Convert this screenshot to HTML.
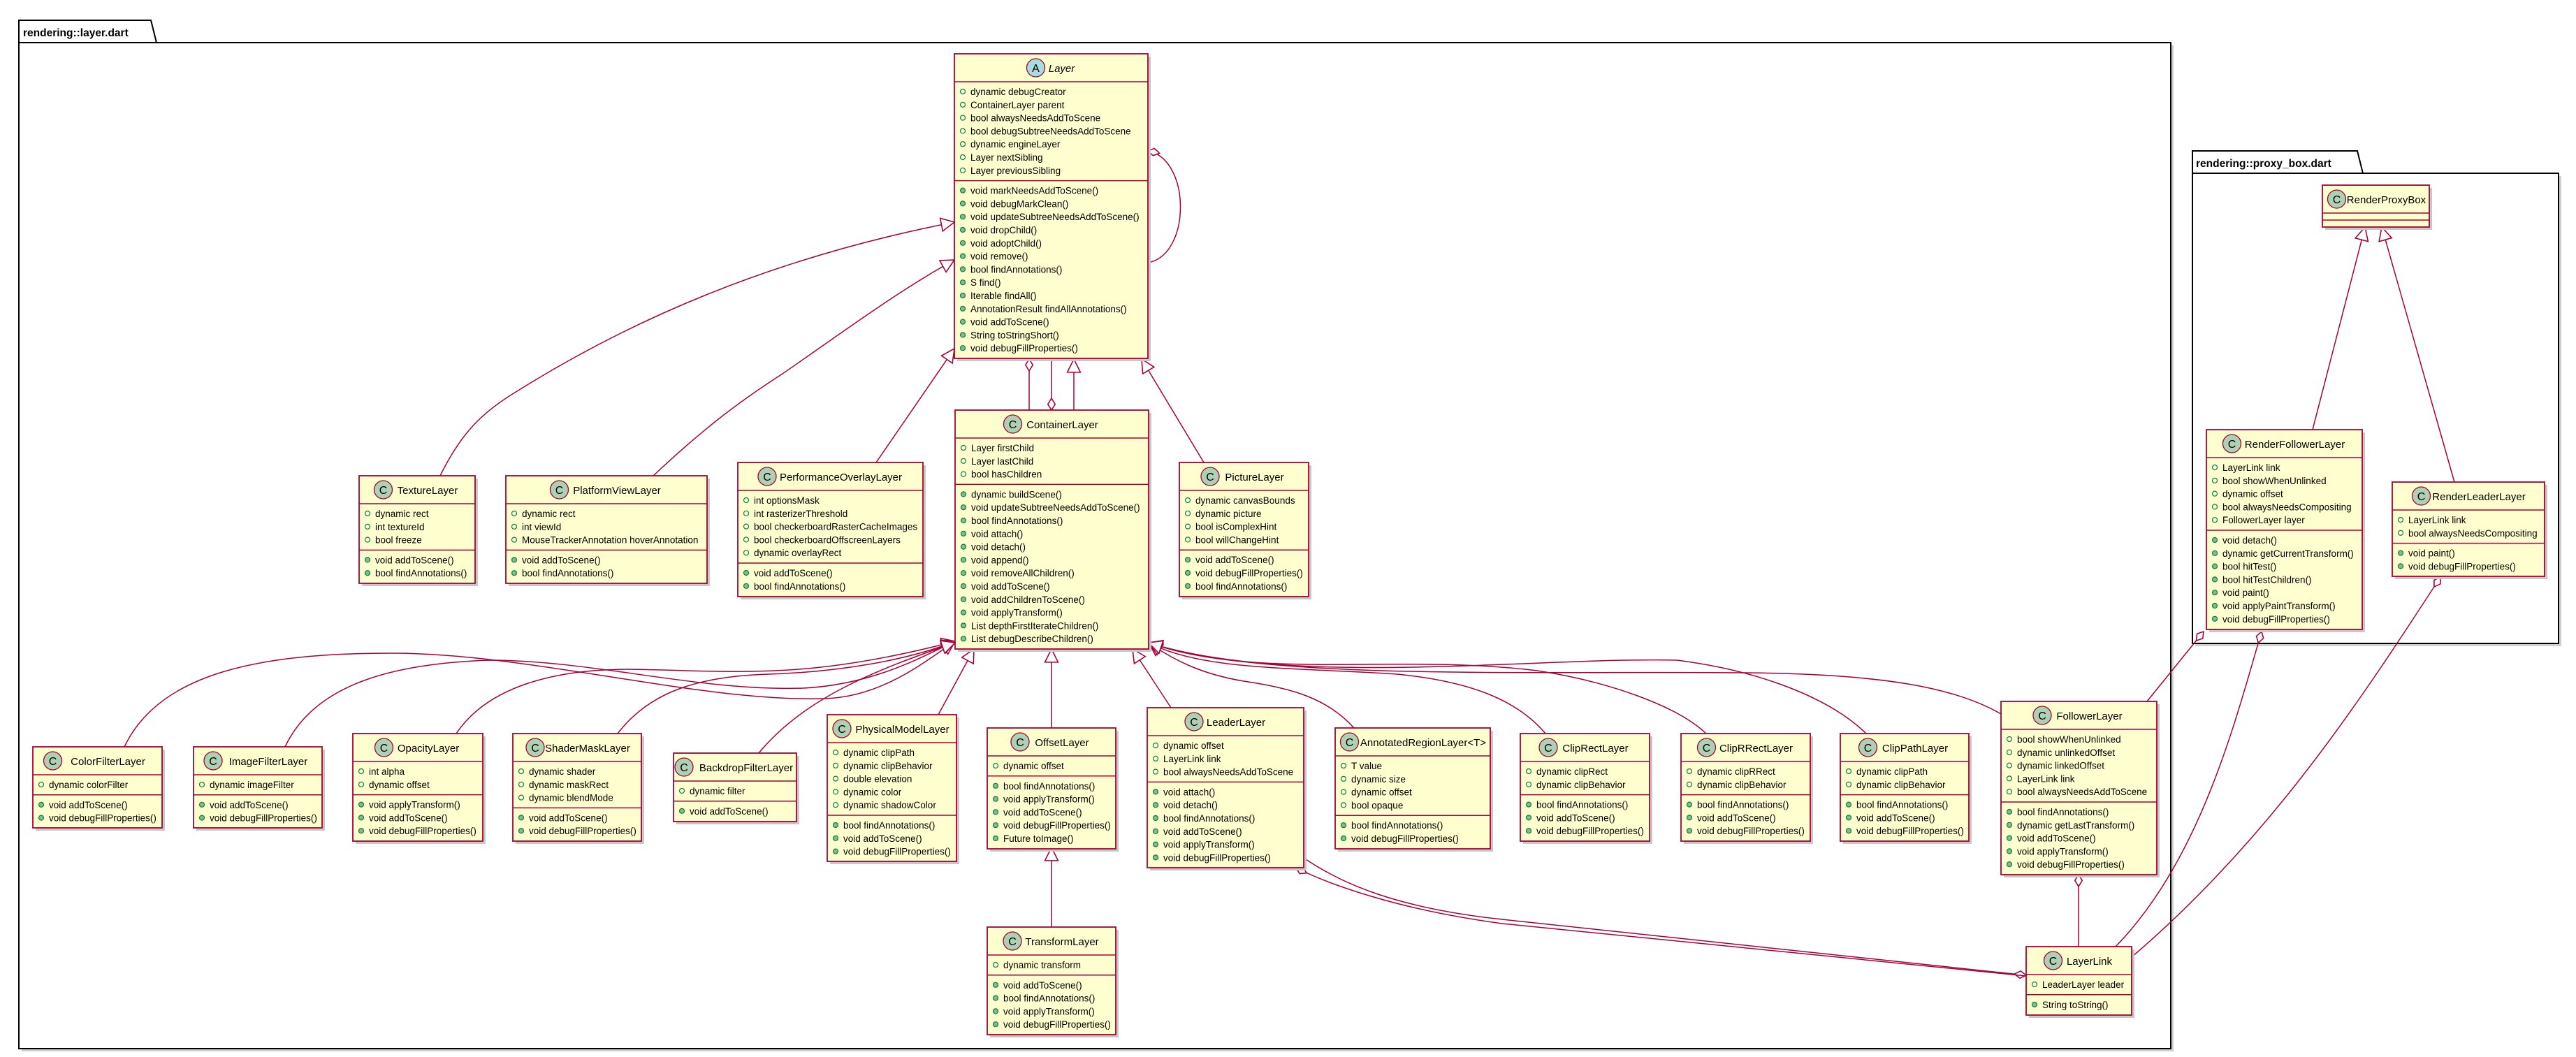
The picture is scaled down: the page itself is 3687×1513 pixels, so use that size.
<!DOCTYPE html>
<html><head><meta charset="utf-8"><style>
html,body{margin:0;padding:0;background:#fff;}
svg{display:block;}
text{font-family:"Liberation Sans",sans-serif;fill:#000;}
.t{font-size:13.5px;}
.n{font-size:15px;text-anchor:middle;}
.b{fill:#FEFECE;stroke:#A80036;stroke-width:1.8;}
.sh{fill:#c8c8c8;}
.sp{stroke:#A80036;stroke-width:1.5;}
.ai{fill:none;stroke:#038048;stroke-width:1.2;}
.mi{fill:#84BE84;stroke:#038048;stroke-width:1.2;}
.ci{fill:#ADD1B2;stroke:#A80036;stroke-width:1.3;}
.ca{fill:#A9DCDF;stroke:#A80036;stroke-width:1.3;}
.cl{font-size:16px;text-anchor:middle;}
.e{fill:none;stroke:#A80036;stroke-width:1.5;}
.inh{marker-end:url(#tri);}
.agg{marker-start:url(#dia);}
.pk{font-size:15.5px;font-weight:bold;}
</style></head><body>
<svg width="3687" height="1513" viewBox="0 0 3687 1513" xmlns="http://www.w3.org/2000/svg">
<defs>
<marker id="tri" markerUnits="userSpaceOnUse" markerWidth="22" markerHeight="22" refX="18" refY="9" orient="auto" viewBox="-1 -1 21 21"><path d="M0,0 L18,9 L0,18 Z" fill="#fff" stroke="#A80036" stroke-width="1.5"/></marker>
<marker id="dia" markerUnits="userSpaceOnUse" markerWidth="20" markerHeight="14" refX="0" refY="5" orient="auto" viewBox="-1 -1 19 12"><path d="M0,5 L8,0 L16,5 L8,10 Z" fill="#fff" stroke="#A80036" stroke-width="1.5"/></marker>
</defs>

<!-- packages -->
<rect x="31" y="65" width="3080" height="1440" fill="#d0d0d0"/>
<rect x="27" y="61" width="3080" height="1440" fill="#fff" stroke="#000" stroke-width="2"/>
<polygon points="27,61 27,29 216,29 224,61" fill="#fff" stroke="#000" stroke-width="2"/>
<text x="33" y="52" class="pk">rendering::layer.dart</text>

<rect x="3142" y="252" width="524" height="673" fill="#d0d0d0"/>
<rect x="3138" y="248" width="524" height="673" fill="#fff" stroke="#000" stroke-width="2"/>
<polygon points="3138,248 3138,216 3374,216 3382,248" fill="#fff" stroke="#000" stroke-width="2"/>
<text x="3143" y="239" class="pk">rendering::proxy_box.dart</text>

<!-- edges -->
<path class="e inh" d="M630,681 C660,620 690,590 740,560 C900,460 1100,370 1366,318"/>
<path class="e inh" d="M935,681 C1000,620 1050,580 1120,535 C1200,480 1280,420 1366,372"/>
<path class="e inh" d="M1254,662 L1366,499"/>
<path class="e inh" d="M1537,587 L1537,514"/>
<path class="e inh" d="M1723,662 L1634,514"/>
<path class="e agg" d="M1473,514 L1473,587"/>
<path class="e agg" d="M1505,587 L1505,514"/>
<path class="e agg" d="M1643,216 C1705,228 1705,365 1643,376"/>

<path class="e inh" d="M178,1069 C230,960 380,935 560,935 C760,935 1000,1005 1180,1000 C1260,998 1320,950 1367,918"/>
<path class="e inh" d="M408,1069 C450,980 560,950 700,945 C850,945 1000,990 1150,985 C1250,980 1320,940 1367,918"/>
<path class="e inh" d="M653,1050 C700,980 800,958 900,958 C1050,960 1150,975 1367,918"/>
<path class="e inh" d="M884,1050 C930,990 1000,968 1100,965 C1200,962 1300,945 1367,918"/>
<path class="e inh" d="M1086,1078 C1150,1000 1250,960 1367,920"/>
<path class="e inh" d="M1343,1023 L1394,929"/>
<path class="e inh" d="M1505,1042 L1505,929"/>
<path class="e inh" d="M1676,1013 L1621,929"/>
<path class="e inh" d="M1938,1042 C1900,1000 1850,985 1780,975 C1720,965 1680,945 1644,920"/>
<path class="e inh" d="M2212,1050 C2170,1000 2100,975 2000,965 C1850,955 1720,960 1644,920"/>
<path class="e inh" d="M2442,1050 C2400,1010 2300,975 2200,960 C2000,935 1800,975 1644,920"/>
<path class="e inh" d="M2671,1050 C2620,1000 2520,960 2400,945 C2200,940 1850,985 1644,920"/>
<path class="e inh" d="M2864,1022 C2800,985 2700,965 2500,963 C2200,960 1800,975 1644,920"/>
<path class="e inh" d="M1505,1327 L1505,1213"/>

<path class="e agg" d="M2900,1396 L2150,1316 C2000,1300 1920,1265 1866,1228"/>
<path class="e agg" d="M1855,1242 C1900,1265 2000,1302 2150,1322 L2900,1397"/>
<path class="e agg" d="M2975,1252 L2975,1355"/>
<path class="e agg" d="M3154,904 L3073,1004"/>
<path class="e agg" d="M3237,904 C3200,1030 3150,1230 3028,1355"/>
<path class="e agg" d="M3493,826 C3380,1000 3250,1200 3051,1370"/>
<path class="e inh" d="M3310,615 L3385,325"/>
<path class="e inh" d="M3513,690 L3409,325"/>

<!-- 1 Layer -->
<g transform="translate(1366,77)">
<rect class="sh" x="4" y="4" width="277" height="436"/><rect class="b" width="277" height="436"/>
<line class="sp" x1="0" y1="40" x2="277" y2="40"/><line class="sp" x1="0" y1="181.6" x2="277" y2="181.6"/>
<circle class="ca" cx="116.5" cy="20" r="13"/><text class="cl" x="116.5" y="26">A</text>
<text class="n" x="153.5" y="26" font-style="italic">Layer</text>
<g class="t">
<circle class="ai" cx="12" cy="54" r="3.5"/><text x="23" y="59">dynamic debugCreator</text>
<circle class="ai" cx="12" cy="72.8" r="3.5"/><text x="23" y="77.8">ContainerLayer parent</text>
<circle class="ai" cx="12" cy="91.6" r="3.5"/><text x="23" y="96.6">bool alwaysNeedsAddToScene</text>
<circle class="ai" cx="12" cy="110.4" r="3.5"/><text x="23" y="115.4">bool debugSubtreeNeedsAddToScene</text>
<circle class="ai" cx="12" cy="129.2" r="3.5"/><text x="23" y="134.2">dynamic engineLayer</text>
<circle class="ai" cx="12" cy="148" r="3.5"/><text x="23" y="153">Layer nextSibling</text>
<circle class="ai" cx="12" cy="166.8" r="3.5"/><text x="23" y="171.8">Layer previousSibling</text>
<circle class="mi" cx="12" cy="195.6" r="3.5"/><text x="23" y="200.6">void markNeedsAddToScene()</text>
<circle class="mi" cx="12" cy="214.4" r="3.5"/><text x="23" y="219.4">void debugMarkClean()</text>
<circle class="mi" cx="12" cy="233.2" r="3.5"/><text x="23" y="238.2">void updateSubtreeNeedsAddToScene()</text>
<circle class="mi" cx="12" cy="252" r="3.5"/><text x="23" y="257">void dropChild()</text>
<circle class="mi" cx="12" cy="270.8" r="3.5"/><text x="23" y="275.8">void adoptChild()</text>
<circle class="mi" cx="12" cy="289.6" r="3.5"/><text x="23" y="294.6">void remove()</text>
<circle class="mi" cx="12" cy="308.4" r="3.5"/><text x="23" y="313.4">bool findAnnotations()</text>
<circle class="mi" cx="12" cy="327.2" r="3.5"/><text x="23" y="332.2">S find()</text>
<circle class="mi" cx="12" cy="346" r="3.5"/><text x="23" y="351">Iterable findAll()</text>
<circle class="mi" cx="12" cy="364.8" r="3.5"/><text x="23" y="369.8">AnnotationResult findAllAnnotations()</text>
<circle class="mi" cx="12" cy="383.6" r="3.5"/><text x="23" y="388.6">void addToScene()</text>
<circle class="mi" cx="12" cy="402.4" r="3.5"/><text x="23" y="407.4">String toStringShort()</text>
<circle class="mi" cx="12" cy="421.2" r="3.5"/><text x="23" y="426.2">void debugFillProperties()</text>
</g></g>

<!-- 2 TextureLayer -->
<g transform="translate(514,681)">
<rect class="sh" x="4" y="4" width="166" height="154"/><rect class="b" width="166" height="154"/>
<line class="sp" x1="0" y1="40" x2="166" y2="40"/><line class="sp" x1="0" y1="106.4" x2="166" y2="106.4"/>
<circle class="ci" cx="34.5" cy="20" r="13"/><text class="cl" x="34.5" y="26">C</text>
<text class="n" x="98" y="26">TextureLayer</text>
<g class="t">
<circle class="ai" cx="12" cy="54" r="3.5"/><text x="23" y="59">dynamic rect</text>
<circle class="ai" cx="12" cy="72.8" r="3.5"/><text x="23" y="77.8">int textureId</text>
<circle class="ai" cx="12" cy="91.6" r="3.5"/><text x="23" y="96.6">bool freeze</text>
<circle class="mi" cx="12" cy="120.4" r="3.5"/><text x="23" y="125.4">void addToScene()</text>
<circle class="mi" cx="12" cy="139.2" r="3.5"/><text x="23" y="144.2">bool findAnnotations()</text>
</g></g>

<!-- 3 PlatformViewLayer -->
<g transform="translate(724,681)">
<rect class="sh" x="4" y="4" width="288" height="154"/><rect class="b" width="288" height="154"/>
<line class="sp" x1="0" y1="40" x2="288" y2="40"/><line class="sp" x1="0" y1="106.4" x2="288" y2="106.4"/>
<circle class="ci" cx="76.5" cy="20" r="13"/><text class="cl" x="76.5" y="26">C</text>
<text class="n" x="159" y="26">PlatformViewLayer</text>
<g class="t">
<circle class="ai" cx="12" cy="54" r="3.5"/><text x="23" y="59">dynamic rect</text>
<circle class="ai" cx="12" cy="72.8" r="3.5"/><text x="23" y="77.8">int viewId</text>
<circle class="ai" cx="12" cy="91.6" r="3.5"/><text x="23" y="96.6">MouseTrackerAnnotation hoverAnnotation</text>
<circle class="mi" cx="12" cy="120.4" r="3.5"/><text x="23" y="125.4">void addToScene()</text>
<circle class="mi" cx="12" cy="139.2" r="3.5"/><text x="23" y="144.2">bool findAnnotations()</text>
</g></g>

<!-- 4 PerformanceOverlayLayer -->
<g transform="translate(1056,662)">
<rect class="sh" x="4" y="4" width="265" height="192"/><rect class="b" width="265" height="192"/>
<line class="sp" x1="0" y1="40" x2="265" y2="40"/><line class="sp" x1="0" y1="144" x2="265" y2="144"/>
<circle class="ci" cx="42" cy="20" r="13"/><text class="cl" x="42" y="26">C</text>
<text class="n" x="147.5" y="26">PerformanceOverlayLayer</text>
<g class="t">
<circle class="ai" cx="12" cy="54" r="3.5"/><text x="23" y="59">int optionsMask</text>
<circle class="ai" cx="12" cy="72.8" r="3.5"/><text x="23" y="77.8">int rasterizerThreshold</text>
<circle class="ai" cx="12" cy="91.6" r="3.5"/><text x="23" y="96.6">bool checkerboardRasterCacheImages</text>
<circle class="ai" cx="12" cy="110.4" r="3.5"/><text x="23" y="115.4">bool checkerboardOffscreenLayers</text>
<circle class="ai" cx="12" cy="129.2" r="3.5"/><text x="23" y="134.2">dynamic overlayRect</text>
<circle class="mi" cx="12" cy="158" r="3.5"/><text x="23" y="163">void addToScene()</text>
<circle class="mi" cx="12" cy="176.8" r="3.5"/><text x="23" y="181.8">bool findAnnotations()</text>
</g></g>

<!-- 5 ContainerLayer -->
<g transform="translate(1367,587)">
<rect class="sh" x="4" y="4" width="277" height="342"/><rect class="b" width="277" height="342"/>
<line class="sp" x1="0" y1="40" x2="277" y2="40"/><line class="sp" x1="0" y1="106.4" x2="277" y2="106.4"/>
<circle class="ci" cx="82.5" cy="20" r="13"/><text class="cl" x="82.5" y="26">C</text>
<text class="n" x="153.5" y="26">ContainerLayer</text>
<g class="t">
<circle class="ai" cx="12" cy="54" r="3.5"/><text x="23" y="59">Layer firstChild</text>
<circle class="ai" cx="12" cy="72.8" r="3.5"/><text x="23" y="77.8">Layer lastChild</text>
<circle class="ai" cx="12" cy="91.6" r="3.5"/><text x="23" y="96.6">bool hasChildren</text>
<circle class="mi" cx="12" cy="120.4" r="3.5"/><text x="23" y="125.4">dynamic buildScene()</text>
<circle class="mi" cx="12" cy="139.2" r="3.5"/><text x="23" y="144.2">void updateSubtreeNeedsAddToScene()</text>
<circle class="mi" cx="12" cy="158" r="3.5"/><text x="23" y="163">bool findAnnotations()</text>
<circle class="mi" cx="12" cy="176.8" r="3.5"/><text x="23" y="181.8">void attach()</text>
<circle class="mi" cx="12" cy="195.6" r="3.5"/><text x="23" y="200.6">void detach()</text>
<circle class="mi" cx="12" cy="214.4" r="3.5"/><text x="23" y="219.4">void append()</text>
<circle class="mi" cx="12" cy="233.2" r="3.5"/><text x="23" y="238.2">void removeAllChildren()</text>
<circle class="mi" cx="12" cy="252" r="3.5"/><text x="23" y="257">void addToScene()</text>
<circle class="mi" cx="12" cy="270.8" r="3.5"/><text x="23" y="275.8">void addChildrenToScene()</text>
<circle class="mi" cx="12" cy="289.6" r="3.5"/><text x="23" y="294.6">void applyTransform()</text>
<circle class="mi" cx="12" cy="308.4" r="3.5"/><text x="23" y="313.4">List depthFirstIterateChildren()</text>
<circle class="mi" cx="12" cy="327.2" r="3.5"/><text x="23" y="332.2">List debugDescribeChildren()</text>
</g></g>

<!-- 6 PictureLayer -->
<g transform="translate(1688,662)">
<rect class="sh" x="4" y="4" width="185" height="192"/><rect class="b" width="185" height="192"/>
<line class="sp" x1="0" y1="40" x2="185" y2="40"/><line class="sp" x1="0" y1="125.2" x2="185" y2="125.2"/>
<circle class="ci" cx="44" cy="20" r="13"/><text class="cl" x="44" y="26">C</text>
<text class="n" x="107.5" y="26">PictureLayer</text>
<g class="t">
<circle class="ai" cx="12" cy="54" r="3.5"/><text x="23" y="59">dynamic canvasBounds</text>
<circle class="ai" cx="12" cy="72.8" r="3.5"/><text x="23" y="77.8">dynamic picture</text>
<circle class="ai" cx="12" cy="91.6" r="3.5"/><text x="23" y="96.6">bool isComplexHint</text>
<circle class="ai" cx="12" cy="110.4" r="3.5"/><text x="23" y="115.4">bool willChangeHint</text>
<circle class="mi" cx="12" cy="139.2" r="3.5"/><text x="23" y="144.2">void addToScene()</text>
<circle class="mi" cx="12" cy="158" r="3.5"/><text x="23" y="163">void debugFillProperties()</text>
<circle class="mi" cx="12" cy="176.8" r="3.5"/><text x="23" y="181.8">bool findAnnotations()</text>
</g></g>

<!-- 7 ColorFilterLayer -->
<g transform="translate(47,1069)">
<rect class="sh" x="4" y="4" width="185" height="116"/><rect class="b" width="185" height="116"/>
<line class="sp" x1="0" y1="40" x2="185" y2="40"/><line class="sp" x1="0" y1="68.8" x2="185" y2="68.8"/>
<circle class="ci" cx="28.5" cy="20" r="13"/><text class="cl" x="28.5" y="26">C</text>
<text class="n" x="107.5" y="26">ColorFilterLayer</text>
<g class="t">
<circle class="ai" cx="12" cy="54" r="3.5"/><text x="23" y="59">dynamic colorFilter</text>
<circle class="mi" cx="12" cy="82.8" r="3.5"/><text x="23" y="87.8">void addToScene()</text>
<circle class="mi" cx="12" cy="101.6" r="3.5"/><text x="23" y="106.6">void debugFillProperties()</text>
</g></g>

<!-- 8 ImageFilterLayer -->
<g transform="translate(277,1069)">
<rect class="sh" x="4" y="4" width="184" height="116"/><rect class="b" width="184" height="116"/>
<line class="sp" x1="0" y1="40" x2="184" y2="40"/><line class="sp" x1="0" y1="68.8" x2="184" y2="68.8"/>
<circle class="ci" cx="28" cy="20" r="13"/><text class="cl" x="28" y="26">C</text>
<text class="n" x="107" y="26">ImageFilterLayer</text>
<g class="t">
<circle class="ai" cx="12" cy="54" r="3.5"/><text x="23" y="59">dynamic imageFilter</text>
<circle class="mi" cx="12" cy="82.8" r="3.5"/><text x="23" y="87.8">void addToScene()</text>
<circle class="mi" cx="12" cy="101.6" r="3.5"/><text x="23" y="106.6">void debugFillProperties()</text>
</g></g>

<!-- 9 OpacityLayer -->
<g transform="translate(505,1050)">
<rect class="sh" x="4" y="4" width="186" height="154"/><rect class="b" width="186" height="154"/>
<line class="sp" x1="0" y1="40" x2="186" y2="40"/><line class="sp" x1="0" y1="87.6" x2="186" y2="87.6"/>
<circle class="ci" cx="44.5" cy="20" r="13"/><text class="cl" x="44.5" y="26">C</text>
<text class="n" x="108" y="26">OpacityLayer</text>
<g class="t">
<circle class="ai" cx="12" cy="54" r="3.5"/><text x="23" y="59">int alpha</text>
<circle class="ai" cx="12" cy="72.8" r="3.5"/><text x="23" y="77.8">dynamic offset</text>
<circle class="mi" cx="12" cy="101.6" r="3.5"/><text x="23" y="106.6">void applyTransform()</text>
<circle class="mi" cx="12" cy="120.4" r="3.5"/><text x="23" y="125.4">void addToScene()</text>
<circle class="mi" cx="12" cy="139.2" r="3.5"/><text x="23" y="144.2">void debugFillProperties()</text>
</g></g>

<!-- 10 ShaderMaskLayer -->
<g transform="translate(734,1050)">
<rect class="sh" x="4" y="4" width="184" height="154"/><rect class="b" width="184" height="154"/>
<line class="sp" x1="0" y1="40" x2="184" y2="40"/><line class="sp" x1="0" y1="106.4" x2="184" y2="106.4"/>
<circle class="ci" cx="32" cy="20" r="13"/><text class="cl" x="32" y="26">C</text>
<text class="n" x="107" y="26">ShaderMaskLayer</text>
<g class="t">
<circle class="ai" cx="12" cy="54" r="3.5"/><text x="23" y="59">dynamic shader</text>
<circle class="ai" cx="12" cy="72.8" r="3.5"/><text x="23" y="77.8">dynamic maskRect</text>
<circle class="ai" cx="12" cy="91.6" r="3.5"/><text x="23" y="96.6">dynamic blendMode</text>
<circle class="mi" cx="12" cy="120.4" r="3.5"/><text x="23" y="125.4">void addToScene()</text>
<circle class="mi" cx="12" cy="139.2" r="3.5"/><text x="23" y="144.2">void debugFillProperties()</text>
</g></g>

<!-- 11 BackdropFilterLayer -->
<g transform="translate(964,1078)">
<rect class="sh" x="4" y="4" width="176" height="98"/><rect class="b" width="176" height="98"/>
<line class="sp" x1="0" y1="40" x2="176" y2="40"/><line class="sp" x1="0" y1="68.8" x2="176" y2="68.8"/>
<circle class="ci" cx="15" cy="20" r="13"/><text class="cl" x="15" y="26">C</text>
<text class="n" x="104" y="26">BackdropFilterLayer</text>
<g class="t">
<circle class="ai" cx="12" cy="54" r="3.5"/><text x="23" y="59">dynamic filter</text>
<circle class="mi" cx="12" cy="82.8" r="3.5"/><text x="23" y="87.8">void addToScene()</text>
</g></g>

<!-- 12 PhysicalModelLayer -->
<g transform="translate(1184,1023)">
<rect class="sh" x="4" y="4" width="185" height="210"/><rect class="b" width="185" height="210"/>
<line class="sp" x1="0" y1="40" x2="185" y2="40"/><line class="sp" x1="0" y1="144" x2="185" y2="144"/>
<circle class="ci" cx="21" cy="20" r="13"/><text class="cl" x="21" y="26">C</text>
<text class="n" x="107.5" y="26">PhysicalModelLayer</text>
<g class="t">
<circle class="ai" cx="12" cy="54" r="3.5"/><text x="23" y="59">dynamic clipPath</text>
<circle class="ai" cx="12" cy="72.8" r="3.5"/><text x="23" y="77.8">dynamic clipBehavior</text>
<circle class="ai" cx="12" cy="91.6" r="3.5"/><text x="23" y="96.6">double elevation</text>
<circle class="ai" cx="12" cy="110.4" r="3.5"/><text x="23" y="115.4">dynamic color</text>
<circle class="ai" cx="12" cy="129.2" r="3.5"/><text x="23" y="134.2">dynamic shadowColor</text>
<circle class="mi" cx="12" cy="158" r="3.5"/><text x="23" y="163">bool findAnnotations()</text>
<circle class="mi" cx="12" cy="176.8" r="3.5"/><text x="23" y="181.8">void addToScene()</text>
<circle class="mi" cx="12" cy="195.6" r="3.5"/><text x="23" y="200.6">void debugFillProperties()</text>
</g></g>

<!-- 13 OffsetLayer -->
<g transform="translate(1413,1042)">
<rect class="sh" x="4" y="4" width="184" height="173"/><rect class="b" width="184" height="173"/>
<line class="sp" x1="0" y1="40" x2="184" y2="40"/><line class="sp" x1="0" y1="68.8" x2="184" y2="68.8"/>
<circle class="ci" cx="47" cy="20" r="13"/><text class="cl" x="47" y="26">C</text>
<text class="n" x="107" y="26">OffsetLayer</text>
<g class="t">
<circle class="ai" cx="12" cy="54" r="3.5"/><text x="23" y="59">dynamic offset</text>
<circle class="mi" cx="12" cy="82.8" r="3.5"/><text x="23" y="87.8">bool findAnnotations()</text>
<circle class="mi" cx="12" cy="101.6" r="3.5"/><text x="23" y="106.6">void applyTransform()</text>
<circle class="mi" cx="12" cy="120.4" r="3.5"/><text x="23" y="125.4">void addToScene()</text>
<circle class="mi" cx="12" cy="139.2" r="3.5"/><text x="23" y="144.2">void debugFillProperties()</text>
<circle class="mi" cx="12" cy="158" r="3.5"/><text x="23" y="163">Future toImage()</text>
</g></g>

<!-- 14 LeaderLayer -->
<g transform="translate(1642,1013)">
<rect class="sh" x="4" y="4" width="224" height="229"/><rect class="b" width="224" height="229"/>
<line class="sp" x1="0" y1="40" x2="224" y2="40"/><line class="sp" x1="0" y1="106.4" x2="224" y2="106.4"/>
<circle class="ci" cx="67" cy="20" r="13"/><text class="cl" x="67" y="26">C</text>
<text class="n" x="127" y="26">LeaderLayer</text>
<g class="t">
<circle class="ai" cx="12" cy="54" r="3.5"/><text x="23" y="59">dynamic offset</text>
<circle class="ai" cx="12" cy="72.8" r="3.5"/><text x="23" y="77.8">LayerLink link</text>
<circle class="ai" cx="12" cy="91.6" r="3.5"/><text x="23" y="96.6">bool alwaysNeedsAddToScene</text>
<circle class="mi" cx="12" cy="120.4" r="3.5"/><text x="23" y="125.4">void attach()</text>
<circle class="mi" cx="12" cy="139.2" r="3.5"/><text x="23" y="144.2">void detach()</text>
<circle class="mi" cx="12" cy="158" r="3.5"/><text x="23" y="163">bool findAnnotations()</text>
<circle class="mi" cx="12" cy="176.8" r="3.5"/><text x="23" y="181.8">void addToScene()</text>
<circle class="mi" cx="12" cy="195.6" r="3.5"/><text x="23" y="200.6">void applyTransform()</text>
<circle class="mi" cx="12" cy="214.4" r="3.5"/><text x="23" y="219.4">void debugFillProperties()</text>
</g></g>

<!-- 15 AnnotatedRegionLayer -->
<g transform="translate(1911,1042)">
<rect class="sh" x="4" y="4" width="222" height="173"/><rect class="b" width="222" height="173"/>
<line class="sp" x1="0" y1="40" x2="222" y2="40"/><line class="sp" x1="0" y1="125.2" x2="222" y2="125.2"/>
<circle class="ci" cx="20.5" cy="20" r="13"/><text class="cl" x="20.5" y="26">C</text>
<text class="n" x="126" y="26">AnnotatedRegionLayer&lt;T&gt;</text>
<g class="t">
<circle class="ai" cx="12" cy="54" r="3.5"/><text x="23" y="59">T value</text>
<circle class="ai" cx="12" cy="72.8" r="3.5"/><text x="23" y="77.8">dynamic size</text>
<circle class="ai" cx="12" cy="91.6" r="3.5"/><text x="23" y="96.6">dynamic offset</text>
<circle class="ai" cx="12" cy="110.4" r="3.5"/><text x="23" y="115.4">bool opaque</text>
<circle class="mi" cx="12" cy="139.2" r="3.5"/><text x="23" y="144.2">bool findAnnotations()</text>
<circle class="mi" cx="12" cy="158" r="3.5"/><text x="23" y="163">void debugFillProperties()</text>
</g></g>

<!-- 16 ClipRectLayer -->
<g transform="translate(2176,1050)">
<rect class="sh" x="4" y="4" width="185" height="154"/><rect class="b" width="185" height="154"/>
<line class="sp" x1="0" y1="40" x2="185" y2="40"/><line class="sp" x1="0" y1="87.6" x2="185" y2="87.6"/>
<circle class="ci" cx="40" cy="20" r="13"/><text class="cl" x="40" y="26">C</text>
<text class="n" x="107.5" y="26">ClipRectLayer</text>
<g class="t">
<circle class="ai" cx="12" cy="54" r="3.5"/><text x="23" y="59">dynamic clipRect</text>
<circle class="ai" cx="12" cy="72.8" r="3.5"/><text x="23" y="77.8">dynamic clipBehavior</text>
<circle class="mi" cx="12" cy="101.6" r="3.5"/><text x="23" y="106.6">bool findAnnotations()</text>
<circle class="mi" cx="12" cy="120.4" r="3.5"/><text x="23" y="125.4">void addToScene()</text>
<circle class="mi" cx="12" cy="139.2" r="3.5"/><text x="23" y="144.2">void debugFillProperties()</text>
</g></g>

<!-- 17 ClipRRectLayer -->
<g transform="translate(2406,1050)">
<rect class="sh" x="4" y="4" width="185" height="154"/><rect class="b" width="185" height="154"/>
<line class="sp" x1="0" y1="40" x2="185" y2="40"/><line class="sp" x1="0" y1="87.6" x2="185" y2="87.6"/>
<circle class="ci" cx="36.5" cy="20" r="13"/><text class="cl" x="36.5" y="26">C</text>
<text class="n" x="107.5" y="26">ClipRRectLayer</text>
<g class="t">
<circle class="ai" cx="12" cy="54" r="3.5"/><text x="23" y="59">dynamic clipRRect</text>
<circle class="ai" cx="12" cy="72.8" r="3.5"/><text x="23" y="77.8">dynamic clipBehavior</text>
<circle class="mi" cx="12" cy="101.6" r="3.5"/><text x="23" y="106.6">bool findAnnotations()</text>
<circle class="mi" cx="12" cy="120.4" r="3.5"/><text x="23" y="125.4">void addToScene()</text>
<circle class="mi" cx="12" cy="139.2" r="3.5"/><text x="23" y="144.2">void debugFillProperties()</text>
</g></g>

<!-- 18 ClipPathLayer -->
<g transform="translate(2634,1050)">
<rect class="sh" x="4" y="4" width="184" height="154"/><rect class="b" width="184" height="154"/>
<line class="sp" x1="0" y1="40" x2="184" y2="40"/><line class="sp" x1="0" y1="87.6" x2="184" y2="87.6"/>
<circle class="ci" cx="39.5" cy="20" r="13"/><text class="cl" x="39.5" y="26">C</text>
<text class="n" x="107" y="26">ClipPathLayer</text>
<g class="t">
<circle class="ai" cx="12" cy="54" r="3.5"/><text x="23" y="59">dynamic clipPath</text>
<circle class="ai" cx="12" cy="72.8" r="3.5"/><text x="23" y="77.8">dynamic clipBehavior</text>
<circle class="mi" cx="12" cy="101.6" r="3.5"/><text x="23" y="106.6">bool findAnnotations()</text>
<circle class="mi" cx="12" cy="120.4" r="3.5"/><text x="23" y="125.4">void addToScene()</text>
<circle class="mi" cx="12" cy="139.2" r="3.5"/><text x="23" y="144.2">void debugFillProperties()</text>
</g></g>

<!-- 19 FollowerLayer -->
<g transform="translate(2864,1004)">
<rect class="sh" x="4" y="4" width="223" height="248"/><rect class="b" width="223" height="248"/>
<line class="sp" x1="0" y1="40" x2="223" y2="40"/><line class="sp" x1="0" y1="144" x2="223" y2="144"/>
<circle class="ci" cx="59" cy="20" r="13"/><text class="cl" x="59" y="26">C</text>
<text class="n" x="126.5" y="26">FollowerLayer</text>
<g class="t">
<circle class="ai" cx="12" cy="54" r="3.5"/><text x="23" y="59">bool showWhenUnlinked</text>
<circle class="ai" cx="12" cy="72.8" r="3.5"/><text x="23" y="77.8">dynamic unlinkedOffset</text>
<circle class="ai" cx="12" cy="91.6" r="3.5"/><text x="23" y="96.6">dynamic linkedOffset</text>
<circle class="ai" cx="12" cy="110.4" r="3.5"/><text x="23" y="115.4">LayerLink link</text>
<circle class="ai" cx="12" cy="129.2" r="3.5"/><text x="23" y="134.2">bool alwaysNeedsAddToScene</text>
<circle class="mi" cx="12" cy="158" r="3.5"/><text x="23" y="163">bool findAnnotations()</text>
<circle class="mi" cx="12" cy="176.8" r="3.5"/><text x="23" y="181.8">dynamic getLastTransform()</text>
<circle class="mi" cx="12" cy="195.6" r="3.5"/><text x="23" y="200.6">void addToScene()</text>
<circle class="mi" cx="12" cy="214.4" r="3.5"/><text x="23" y="219.4">void applyTransform()</text>
<circle class="mi" cx="12" cy="233.2" r="3.5"/><text x="23" y="238.2">void debugFillProperties()</text>
</g></g>

<!-- 20 TransformLayer -->
<g transform="translate(1413,1327)">
<rect class="sh" x="4" y="4" width="184" height="154"/><rect class="b" width="184" height="154"/>
<line class="sp" x1="0" y1="40" x2="184" y2="40"/><line class="sp" x1="0" y1="68.8" x2="184" y2="68.8"/>
<circle class="ci" cx="36" cy="20" r="13"/><text class="cl" x="36" y="26">C</text>
<text class="n" x="107" y="26">TransformLayer</text>
<g class="t">
<circle class="ai" cx="12" cy="54" r="3.5"/><text x="23" y="59">dynamic transform</text>
<circle class="mi" cx="12" cy="82.8" r="3.5"/><text x="23" y="87.8">void addToScene()</text>
<circle class="mi" cx="12" cy="101.6" r="3.5"/><text x="23" y="106.6">bool findAnnotations()</text>
<circle class="mi" cx="12" cy="120.4" r="3.5"/><text x="23" y="125.4">void applyTransform()</text>
<circle class="mi" cx="12" cy="139.2" r="3.5"/><text x="23" y="144.2">void debugFillProperties()</text>
</g></g>

<!-- 21 LayerLink -->
<g transform="translate(2900,1355)">
<rect class="sh" x="4" y="4" width="151" height="98"/><rect class="b" width="151" height="98"/>
<line class="sp" x1="0" y1="40" x2="151" y2="40"/><line class="sp" x1="0" y1="68.8" x2="151" y2="68.8"/>
<circle class="ci" cx="38.5" cy="20" r="13"/><text class="cl" x="38.5" y="26">C</text>
<text class="n" x="90.5" y="26">LayerLink</text>
<g class="t">
<circle class="ai" cx="12" cy="54" r="3.5"/><text x="23" y="59">LeaderLayer leader</text>
<circle class="mi" cx="12" cy="82.8" r="3.5"/><text x="23" y="87.8">String toString()</text>
</g></g>

<!-- 22 RenderProxyBox -->
<g transform="translate(3324,265)">
<rect class="sh" x="4" y="4" width="153" height="60"/><rect class="b" width="153" height="60"/>
<line class="sp" x1="0" y1="40" x2="153" y2="40"/><line class="sp" x1="0" y1="50" x2="153" y2="50"/>
<circle class="ci" cx="20.5" cy="20" r="13"/><text class="cl" x="20.5" y="26">C</text>
<text class="n" x="91.5" y="26">RenderProxyBox</text>
</g>

<!-- 23 RenderFollowerLayer -->
<g transform="translate(3158,615)">
<rect class="sh" x="4" y="4" width="223" height="286"/><rect class="b" width="223" height="286"/>
<line class="sp" x1="0" y1="40" x2="223" y2="40"/><line class="sp" x1="0" y1="144" x2="223" y2="144"/>
<circle class="ci" cx="36.5" cy="20" r="13"/><text class="cl" x="36.5" y="26">C</text>
<text class="n" x="126.5" y="26">RenderFollowerLayer</text>
<g class="t">
<circle class="ai" cx="12" cy="54" r="3.5"/><text x="23" y="59">LayerLink link</text>
<circle class="ai" cx="12" cy="72.8" r="3.5"/><text x="23" y="77.8">bool showWhenUnlinked</text>
<circle class="ai" cx="12" cy="91.6" r="3.5"/><text x="23" y="96.6">dynamic offset</text>
<circle class="ai" cx="12" cy="110.4" r="3.5"/><text x="23" y="115.4">bool alwaysNeedsCompositing</text>
<circle class="ai" cx="12" cy="129.2" r="3.5"/><text x="23" y="134.2">FollowerLayer layer</text>
<circle class="mi" cx="12" cy="158" r="3.5"/><text x="23" y="163">void detach()</text>
<circle class="mi" cx="12" cy="176.8" r="3.5"/><text x="23" y="181.8">dynamic getCurrentTransform()</text>
<circle class="mi" cx="12" cy="195.6" r="3.5"/><text x="23" y="200.6">bool hitTest()</text>
<circle class="mi" cx="12" cy="214.4" r="3.5"/><text x="23" y="219.4">bool hitTestChildren()</text>
<circle class="mi" cx="12" cy="233.2" r="3.5"/><text x="23" y="238.2">void paint()</text>
<circle class="mi" cx="12" cy="252" r="3.5"/><text x="23" y="257">void applyPaintTransform()</text>
<circle class="mi" cx="12" cy="270.8" r="3.5"/><text x="23" y="275.8">void debugFillProperties()</text>
</g></g>

<!-- 24 RenderLeaderLayer -->
<g transform="translate(3424,690)">
<rect class="sh" x="4" y="4" width="218" height="135"/><rect class="b" width="218" height="135"/>
<line class="sp" x1="0" y1="40" x2="218" y2="40"/><line class="sp" x1="0" y1="87.6" x2="218" y2="87.6"/>
<circle class="ci" cx="41.5" cy="20" r="13"/><text class="cl" x="41.5" y="26">C</text>
<text class="n" x="124" y="26">RenderLeaderLayer</text>
<g class="t">
<circle class="ai" cx="12" cy="54" r="3.5"/><text x="23" y="59">LayerLink link</text>
<circle class="ai" cx="12" cy="72.8" r="3.5"/><text x="23" y="77.8">bool alwaysNeedsCompositing</text>
<circle class="mi" cx="12" cy="101.6" r="3.5"/><text x="23" y="106.6">void paint()</text>
<circle class="mi" cx="12" cy="120.4" r="3.5"/><text x="23" y="125.4">void debugFillProperties()</text>
</g></g>

</svg>
</body></html>
